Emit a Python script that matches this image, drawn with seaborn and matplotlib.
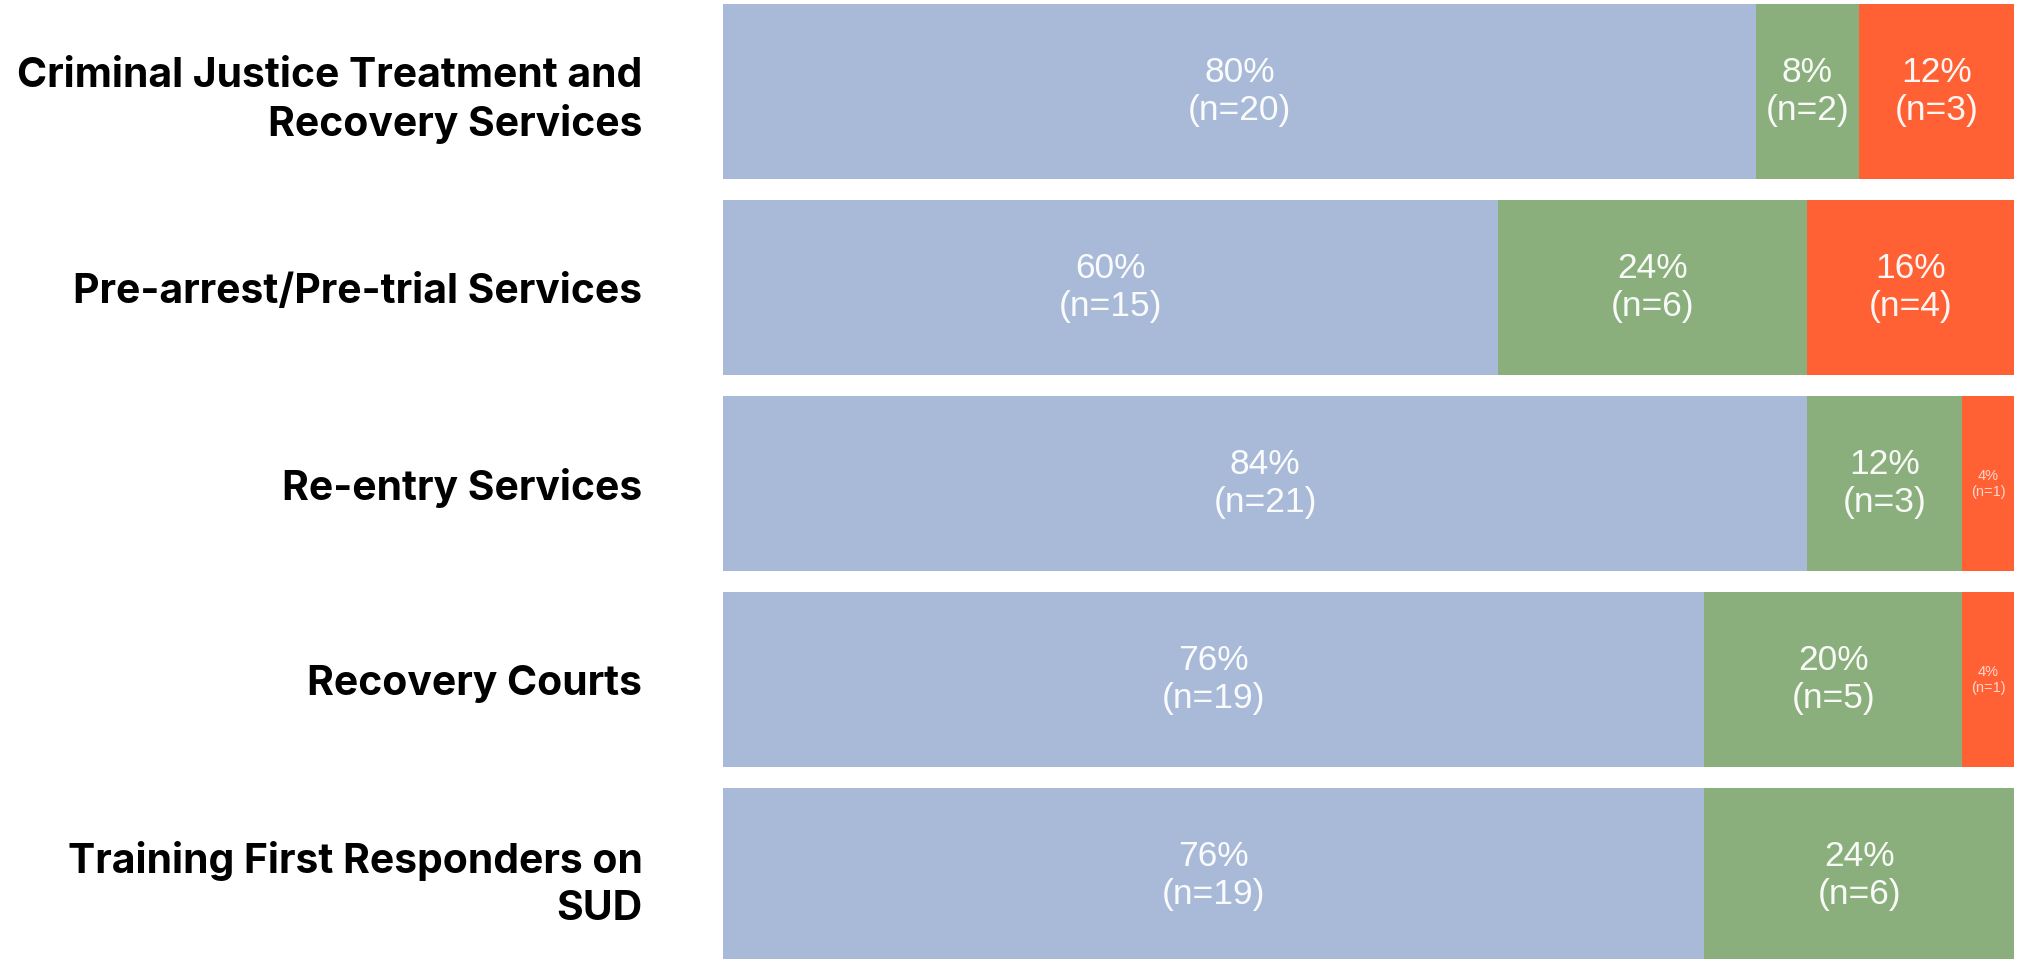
import numpy as np
import pandas as pd
import seaborn as sns
import matplotlib.pyplot as plt

categories = ["Criminal Justice Treatment and\nRecovery Services",
              "Pre-arrest/Pre-trial Services",
              "Re-entry Services",
              "Recovery Courts",
              "Training First Responders on\nSUD"]
yes_n = [20, 15, 21, 19, 19]
partial_n = [2, 6, 3, 5, 6]
no_n = [3, 4, 1, 1, 0]
total_n = 25

colors = ["#A9BAD8", "#8AAF7C", "#FF6034"]

sns.set_theme(style="white")
plt.rcParams['font.family'] = ['Liberation Sans', 'DejaVu Sans']

counts = np.array([yes_n, partial_n, no_n], dtype=float)
pcts = counts / total_n * 100
cum = np.cumsum(pcts, axis=0)

fig = plt.figure(figsize=(20.24, 9.59), dpi=100)
ax = fig.add_axes([723 / 2024, 0, (2014 - 723) / 2024, 1])

# stacked bars: draw cumulative totals from the back to the front
for i in [2, 1, 0]:
    df = pd.DataFrame({"cat": categories, "val": cum[i]})
    sns.barplot(data=df, x="val", y="cat", color=colors[i], orient="h",
                width=0.895, linewidth=0, saturation=1, ax=ax)

# segment labels
for i in range(3):
    for j, cat in enumerate(categories):
        n = counts[i, j]
        if n == 0:
            continue
        p = pcts[i, j]
        x = cum[i, j] - p / 2
        label = f"{p:.0f}%\n(n={n:.0f})"
        if p < 5:
            ax.text(x, j, label, ha="center", va="center", fontsize=10.5,
                    color="white", alpha=0.75, linespacing=1.15)
        else:
            ax.text(x, j, label, ha="center", va="center", fontsize=25.5,
                    color="white", alpha=0.95, linespacing=1.2)

ax.set_xlim(0, 100)
ax.set_ylim(4.425, -0.468)
ax.set_xlabel("")
ax.set_ylabel("")
ax.set_xticks([])
sns.despine(ax=ax, left=True, bottom=True)
ax.tick_params(axis="y", length=0, pad=58)
for t in ax.get_yticklabels():
    t.set_fontfamily(['Inter', 'DejaVu Sans'])
    t.set_fontweight("bold")
    t.set_fontsize(29.4)
    t.set_color("black")
    t.set_linespacing(1.3)

fig.savefig("out.png", dpi=100)
